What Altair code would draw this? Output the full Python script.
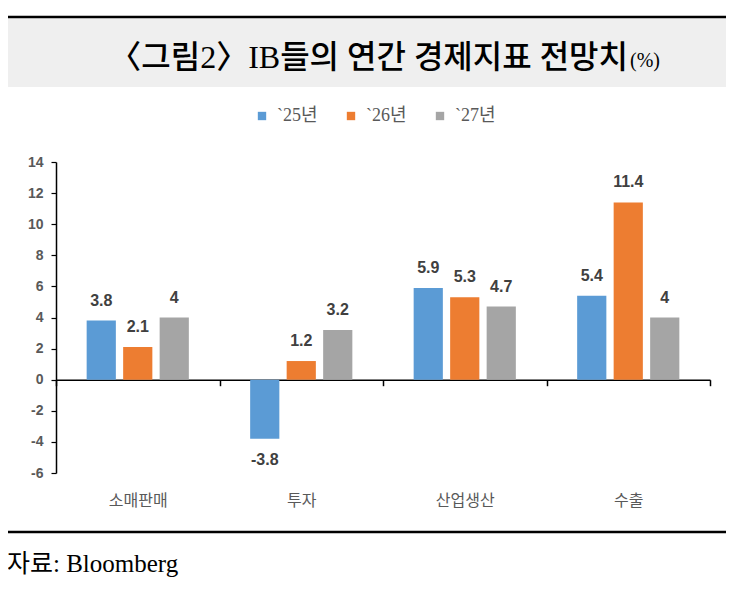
import altair as alt
import pandas as pd

# ---- data ----
categories = ["소매판매", "투자", "산업생산", "수출"]
series = ["`25년", "`26년", "`27년"]
values_25 = [3.8, -3.8, 5.9, 5.4]
values_26 = [2.1, 1.2, 5.3, 11.4]
values_27 = [4.0, 3.2, 4.7, 4.0]
y_ticks = [-6, -4, -2, 0, 2, 4, 6, 8, 10, 12, 14]
colors = ["#5B9BD5", "#ED7D31", "#A5A5A5"]
title_main = "〈그림2〉IB들의 연간 경제지표 전망치"
title_unit = "(%)"
source_text = "자료: Bloomberg"

rows = []
for s, vals in zip(series, [values_25, values_26, values_27]):
    for c, v in zip(categories, vals):
        rows.append({"category": c, "series": s, "value": v})
df = pd.DataFrame(rows)

W, H = 654, 311
YMIN, YMAX = -6, 14
zero_y = H * YMAX / (YMAX - YMIN)

SERIF = "Liberation Serif, Noto Sans CJK KR"
SANS_KR = "Noto Sans CJK KR"

x_enc = alt.X(
    "category:N",
    sort=categories,
    scale=alt.Scale(domain=categories, paddingInner=0, paddingOuter=0),
    axis=alt.Axis(
        title=None, orient="bottom", offset=-(H - zero_y),
        domain=True, domainColor="black", domainWidth=1.5,
        ticks=True, tickBand="extent", tickSize=6, tickColor="black", tickWidth=1.5,
        labelAngle=0, labelPadding=107, labelFontSize=16, labelColor="#595959",
        labelFont=SANS_KR, grid=False,
    ),
)
xo_enc = alt.XOffset(
    "series:N", sort=series,
    scale=alt.Scale(domain=series, paddingInner=0.2, paddingOuter=0.84),
)
y_enc = alt.Y(
    "value:Q",
    scale=alt.Scale(domain=[YMIN, YMAX], nice=False, zero=False),
    axis=alt.Axis(
        values=y_ticks, title=None, grid=False, labelOverlap=False,
        domainColor="black", domainWidth=1.5,
        tickColor="black", tickSize=5, tickWidth=1.2,
        labelFontSize=14, labelFontWeight="bold", labelColor="#595959",
        labelPadding=8, labelExpr="'' + datum.value", labelFont="Liberation Sans",
    ),
)

base = alt.Chart(df)

bars = base.mark_bar().encode(
    x=x_enc,
    xOffset=xo_enc,
    y=y_enc,
    color=alt.Color(
        "series:N", sort=series,
        scale=alt.Scale(domain=series, range=colors),
        legend=alt.Legend(
            title=None, orient="none", legendX=197, legendY=-55,
            direction="horizontal", symbolType="square", symbolSize=70,
            symbolStrokeWidth=0, labelFontSize=18, labelColor="#595959",
            labelFont=SERIF, columnPadding=24, labelOffset=6,
        ),
    ),
)

label_style = dict(fontSize=16, fontWeight="bold", color="#404040",
                   font="Liberation Sans", baseline="middle")
pos_labels = base.transform_filter("datum.value >= 0").transform_calculate(
    label="'' + datum.value"
).mark_text(dy=-20, **label_style).encode(
    x=x_enc, xOffset=xo_enc, y=y_enc, text="label:N"
)
neg_labels = base.transform_filter("datum.value < 0").transform_calculate(
    label="'' + datum.value"
).mark_text(dy=21, **label_style).encode(
    x=x_enc, xOffset=xo_enc, y=y_enc, text="label:N"
)

dummy = alt.Chart(pd.DataFrame({"d": [0]}))

top_line = dummy.mark_rule(color="black", strokeWidth=2.5).encode(
    x=alt.value(-60), x2=alt.value(W + 30), y=alt.value(-145)
)
title_box = dummy.mark_rect(color="#efefef").encode(
    x=alt.value(-60), x2=alt.value(W + 30), y=alt.value(-143.7), y2=alt.value(-75)
)
title_txt = dummy.mark_text(
    text=title_main, align="right", baseline="alphabetic",
    fontSize=32, font=SERIF, fontWeight=500, color="black",
).encode(x=alt.value(572), y=alt.value(-94))
unit_txt = dummy.mark_text(
    text=title_unit, align="left", baseline="alphabetic",
    fontSize=20, font=SERIF, color="black",
).encode(x=alt.value(574), y=alt.value(-95))
foot_line = dummy.mark_rule(color="black", strokeWidth=2.5).encode(
    x=alt.value(-60), x2=alt.value(W + 30), y=alt.value(370)
)
foot_txt = dummy.mark_text(
    text=source_text, align="left", baseline="alphabetic",
    fontSize=25, font=SERIF, color="black",
).encode(x=alt.value(-49), y=alt.value(410))

chart = alt.layer(
    title_box, top_line, title_txt, unit_txt, foot_line, foot_txt,
    bars, pos_labels, neg_labels,
).properties(
    width=W, height=H,
    autosize=alt.AutoSizeParams(type="none"),
    padding={"left": 48, "top": 154, "right": 16, "bottom": 109},
    background="white",
).configure_view(stroke=None)

chart.save("out.html", embed_options={"renderer": "svg", "actions": False})
